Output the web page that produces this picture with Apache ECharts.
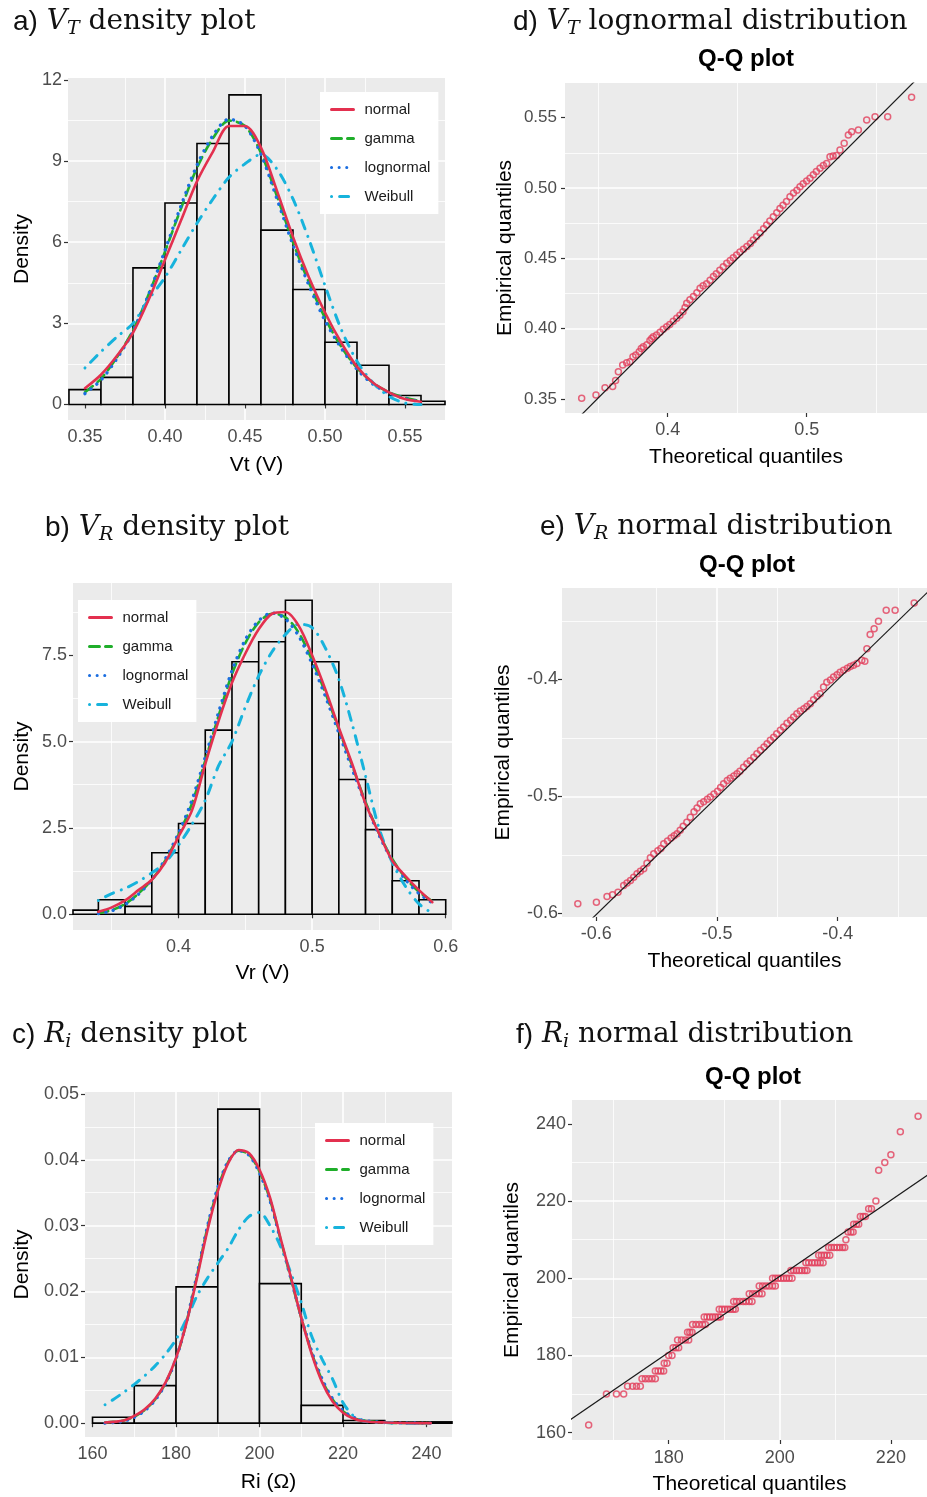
<!DOCTYPE html>
<html>
<head>
<meta charset="utf-8">
<script src="https://cdn.jsdelivr.net/npm/echarts@6/dist/echarts.min.js"></script>
<style>
  html, body { margin: 0; padding: 0; background: #fff; }
  #main { width: 927px; height: 1497px; }
</style>
</head>
<body>
<div id="main"></div>
<script>
// ---- panel a : Vt histogram + fitted densities ----
var binsA = [0.34, 0.36, 0.38, 0.40, 0.42, 0.44, 0.46, 0.48, 0.50, 0.52, 0.54, 0.56, 0.58];
var histA = [0.55, 1.0, 5.05, 7.45, 9.65, 11.45, 6.45, 4.25, 2.3, 1.45, 0.33, 0.12];
var xA = [0.35, 0.36, 0.37, 0.38, 0.39, 0.40, 0.41, 0.42, 0.43, 0.44, 0.45, 0.46, 0.47, 0.48, 0.49, 0.50, 0.51, 0.52, 0.53, 0.54, 0.55, 0.56];
var normA = [0.6, 1.1, 1.8, 2.65, 3.9, 5.35, 6.8, 8.25, 9.35, 10.3, 10.3, 9.5, 7.9, 6.2, 4.7, 3.4, 2.3, 1.4, 0.8, 0.45, 0.2, 0.1];
var gammaA = [0.45, 0.95, 1.75, 2.75, 4.1, 5.65, 7.25, 8.75, 9.85, 10.5, 10.3, 9.3, 7.7, 6.0, 4.5, 3.2, 2.15, 1.35, 0.8, 0.45, 0.25, 0.12];
var lognA = [0.4, 0.9, 1.7, 2.7, 4.1, 5.7, 7.35, 8.85, 9.95, 10.55, 10.3, 9.25, 7.6, 5.9, 4.4, 3.1, 2.1, 1.3, 0.75, 0.42, 0.22, 0.1];
var weibA = [1.35, 1.95, 2.5, 3.0, 3.9, 4.7, 5.7, 6.7, 7.6, 8.4, 8.9, 9.25, 8.7, 7.6, 6.1, 4.4, 2.8, 1.6, 0.8, 0.3, 0.05, 0];

// ---- panel b : Vr ----
var binsB = [0.32, 0.34, 0.36, 0.38, 0.40, 0.42, 0.44, 0.46, 0.48, 0.50, 0.52, 0.54, 0.56, 0.58, 0.60];
var histB = [0.12, 0.42, 0.23, 1.78, 2.63, 5.33, 7.31, 7.89, 9.09, 7.31, 3.9, 2.45, 0.97, 0.42];
var xB = [0.34, 0.35, 0.36, 0.37, 0.38, 0.39, 0.40, 0.41, 0.42, 0.43, 0.44, 0.45, 0.46, 0.47, 0.48, 0.49, 0.50, 0.51, 0.52, 0.53, 0.54, 0.55, 0.56, 0.57, 0.58, 0.59];
var normB = [0.07, 0.2, 0.4, 0.7, 1.0, 1.5, 2.25, 3.0, 4.35, 5.6, 6.7, 7.55, 8.25, 8.7, 8.75, 8.35, 7.5, 6.5, 5.4, 4.35, 3.2, 2.35, 1.55, 1.1, 0.7, 0.35];
var gammaB = [0.03, 0.12, 0.3, 0.6, 1.0, 1.55, 2.3, 3.2, 4.45, 5.75, 6.95, 7.85, 8.45, 8.7, 8.6, 8.15, 7.35, 6.4, 5.35, 4.3, 3.25, 2.35, 1.6, 1.05, 0.65, 0.38];
var lognB = [0.02, 0.1, 0.28, 0.58, 1.0, 1.6, 2.35, 3.3, 4.55, 5.85, 7.05, 7.95, 8.5, 8.72, 8.55, 8.05, 7.25, 6.3, 5.25, 4.2, 3.2, 2.3, 1.55, 1.0, 0.6, 0.33];
var weibB = [0.4, 0.6, 0.75, 0.95, 1.2, 1.5, 2.0, 2.6, 3.3, 4.3, 5.0, 6.0, 6.9, 7.6, 8.1, 8.4, 8.3, 7.7, 6.8, 5.5, 4.0, 2.5, 1.5, 0.8, 0.3, 0.03];

// ---- panel c : Ri ----
var binsC = [160, 170, 180, 190, 200, 210, 220, 230, 240, 250];
var histC = [0.0009, 0.0057, 0.0207, 0.0477, 0.0212, 0.0027, 0.0004, 0.0002, 0.0002];
var xC = [163, 165, 167.5, 170, 172.5, 175, 177.5, 180, 182.5, 185, 187.5, 190, 192.5, 195, 197.5, 200, 202.5, 205, 207.5, 210, 212.5, 215, 217.5, 220, 222.5, 225, 230, 235, 241];
var normC = [0.0001, 0.0002, 0.0004, 0.0011, 0.0021, 0.0037, 0.0062, 0.0099, 0.0152, 0.0220, 0.0292, 0.0352, 0.0395, 0.0415, 0.0410, 0.0385, 0.0343, 0.0282, 0.0222, 0.0160, 0.0105, 0.0062, 0.0033, 0.0016, 0.0007, 0.0003, 0.0001, 0.00003, 0];
var gammaC = [0.0001, 0.0002, 0.0004, 0.0010, 0.0020, 0.0036, 0.0061, 0.0098, 0.0153, 0.0223, 0.0296, 0.0356, 0.0397, 0.0414, 0.0408, 0.0382, 0.0340, 0.0280, 0.0220, 0.0160, 0.0107, 0.0065, 0.0036, 0.0018, 0.0008, 0.0004, 0.0001, 0.00003, 0];
var lognC = [0, 0.0001, 0.0003, 0.0009, 0.0019, 0.0035, 0.0060, 0.0098, 0.0154, 0.0225, 0.0298, 0.0358, 0.0398, 0.0414, 0.0407, 0.0380, 0.0338, 0.0279, 0.0220, 0.0161, 0.0109, 0.0067, 0.0037, 0.0019, 0.0009, 0.0004, 0.0001, 0.00004, 0];
var weibC = [0.0028, 0.0036, 0.0047, 0.0059, 0.0072, 0.0087, 0.0105, 0.0127, 0.0158, 0.0193, 0.0220, 0.0243, 0.0266, 0.0294, 0.0314, 0.0320, 0.0300, 0.0269, 0.0228, 0.0183, 0.0132, 0.0097, 0.0067, 0.0031, 0.0011, 0.0003, 0.0001, 0, 0];

// ---- Q-Q panels : [theoretical, empirical] ----
var qqD = [[0.3381,0.3505],[0.3484,0.3528],[0.3549,0.358],[0.3604,0.3588],[0.3625,0.3632],[0.3645,0.3694],[0.3676,0.3742],[0.3705,0.3758],[0.3728,0.3765],[0.375,0.380],[0.377,0.3812],[0.3795,0.3835],[0.381,0.3858],[0.3825,0.3872],[0.385,0.3885],[0.3872,0.3915],[0.3885,0.393],[0.3897,0.3943],[0.392,0.3955],[0.3945,0.3975],[0.3968,0.3995],[0.3993,0.4014],[0.4015,0.4030],[0.404,0.4052],[0.4065,0.4073],[0.4088,0.4095],[0.411,0.412],[0.4125,0.415],[0.4137,0.418],[0.416,0.4205],[0.4185,0.4228],[0.421,0.4255],[0.4233,0.4287],[0.4255,0.4305],[0.428,0.432],[0.4305,0.4345],[0.4329,0.437],[0.435,0.439],[0.4375,0.4415],[0.44,0.4441],[0.4425,0.4465],[0.445,0.4485],[0.4472,0.4505],[0.4496,0.4524],[0.452,0.4545],[0.4545,0.4565],[0.457,0.4585],[0.4595,0.4605],[0.4616,0.463],[0.464,0.4655],[0.4665,0.468],[0.469,0.471],[0.4712,0.4737],[0.4735,0.4765],[0.476,0.4795],[0.4785,0.4825],[0.4808,0.4855],[0.483,0.4878],[0.4855,0.4905],[0.488,0.4938],[0.4905,0.4965],[0.493,0.4985],[0.4952,0.501],[0.4975,0.503],[0.5,0.505],[0.5024,0.5069],[0.5048,0.5095],[0.507,0.5118],[0.5096,0.514],[0.512,0.516],[0.5144,0.5175],[0.5168,0.5223],[0.519,0.5228],[0.5215,0.5232],[0.524,0.527],[0.527,0.5318],[0.53,0.5377],[0.5324,0.54],[0.5372,0.5412],[0.5432,0.5483],[0.5492,0.5507],[0.5583,0.5507],[0.5755,0.5645]];
var lineD = [[0.32, 0.321], [0.60, 0.598]];

var qqE = [[-0.6153,-0.5917],[-0.5999,-0.5903],[-0.5911,-0.5855],[-0.5865,-0.584],[-0.582,-0.5818],[-0.5773,-0.576],[-0.5745,-0.574],[-0.5717,-0.5718],[-0.569,-0.569],[-0.5662,-0.566],[-0.5635,-0.564],[-0.5607,-0.5618],[-0.558,-0.557],[-0.5552,-0.5525],[-0.5524,-0.549],[-0.549,-0.5465],[-0.5465,-0.5445],[-0.5441,-0.5405],[-0.541,-0.538],[-0.538,-0.5355],[-0.5355,-0.5335],[-0.5331,-0.5319],[-0.5305,-0.529],[-0.528,-0.5255],[-0.525,-0.522],[-0.5221,-0.5177],[-0.519,-0.513],[-0.5165,-0.510],[-0.5138,-0.5063],[-0.511,-0.5045],[-0.508,-0.5025],[-0.5055,-0.5006],[-0.5025,-0.498],[-0.4995,-0.4955],[-0.497,-0.4925],[-0.4945,-0.4892],[-0.4915,-0.4865],[-0.489,-0.4845],[-0.486,-0.4825],[-0.4834,-0.4806],[-0.481,-0.4785],[-0.478,-0.4752],[-0.4752,-0.4721],[-0.4725,-0.4695],[-0.4695,-0.4665],[-0.4669,-0.4635],[-0.464,-0.4605],[-0.461,-0.4578],[-0.4585,-0.455],[-0.4558,-0.4521],[-0.453,-0.4495],[-0.4505,-0.4465],[-0.4475,-0.4435],[-0.4448,-0.4407],[-0.442,-0.4375],[-0.439,-0.435],[-0.4365,-0.4322],[-0.4338,-0.4293],[-0.431,-0.427],[-0.428,-0.4252],[-0.4255,-0.4232],[-0.4227,-0.4208],[-0.42,-0.4175],[-0.417,-0.4145],[-0.4145,-0.4123],[-0.4117,-0.4066],[-0.409,-0.4025],[-0.406,-0.4005],[-0.4034,-0.398],[-0.4005,-0.396],[-0.398,-0.394],[-0.3951,-0.3923],[-0.392,-0.3905],[-0.3895,-0.389],[-0.3869,-0.388],[-0.384,-0.3865],[-0.38,-0.3838],[-0.3775,-0.3845],[-0.3758,-0.3738],[-0.3731,-0.3618],[-0.3698,-0.3567],[-0.3662,-0.3504],[-0.3598,-0.341],[-0.3524,-0.341],[-0.3366,-0.3348]];
var lineE = [[-0.64, -0.641], [-0.31, -0.310]];

// panel f: empirical levels (data are integers in steps of 2) and their theoretical quantiles
var levelsF = [162, 170, 172, 174, 176, 178, 180, 182, 184, 186, 188, 190, 192, 194, 196, 198, 200, 202, 204, 206, 208, 210, 212, 214, 216, 218, 220, 228, 230, 232, 238, 242];
var theoF = [
  [165.6],
  [168.8, 170.6, 171.9],
  [172.6, 173.5, 174.2, 174.9],
  [175.2, 175.8, 176.4, 177.0, 177.6],
  [177.6, 178.1, 178.6, 179.1],
  [179.2, 179.7],
  [180.0, 180.6],
  [180.8, 181.3, 181.8],
  [181.6, 182.3, 183.0, 183.6],
  [183.4, 183.8, 184.2],
  [184.3, 184.9, 185.5, 186.1, 186.6],
  [186.4, 186.9, 187.4, 187.9, 188.4, 188.9, 189.3],
  [189.1, 189.6, 190.1, 190.6, 191.1, 191.6, 192.0],
  [191.7, 192.2, 192.8, 193.4, 193.9, 194.5, 195.0],
  [194.5, 195.1, 195.7, 196.3, 196.8],
  [196.3, 196.9, 197.5, 198.1, 198.7, 199.2],
  [198.7, 199.2, 199.7, 200.2, 200.7, 201.2, 201.7, 202.2],
  [202.0, 202.5, 203.0, 203.5, 204.0, 204.5, 204.9],
  [204.7, 205.2, 205.8, 206.3, 206.8, 207.3, 207.8],
  [207.0, 207.5, 208.0, 208.5, 209.0],
  [208.8, 209.3, 209.8, 210.3, 210.8, 211.3, 211.7],
  [211.9],
  [212.3, 212.8, 213.2],
  [213.3, 213.8, 214.2],
  [214.5, 215.0, 215.4],
  [216.0, 216.5],
  [217.3],
  [217.8],
  [218.9],
  [220.0],
  [221.7],
  [224.9]
];
var lineF = [[160, 161.1], [230, 230.1]];

// tick values
var ticksAx = [0.35, 0.40, 0.45, 0.50, 0.55], ticksAy = [0, 3, 6, 9, 12];
var ticksBx = [0.4, 0.5, 0.6], ticksBy = [0, 2.5, 5, 7.5];
var ticksCx = [160, 180, 200, 220, 240], ticksCy = [0, 0.01, 0.02, 0.03, 0.04, 0.05];
var ticksDx = [0.4, 0.5], ticksDy = [0.35, 0.40, 0.45, 0.50, 0.55];
var ticksEx = [-0.6, -0.5, -0.4], ticksEy = [-0.6, -0.5, -0.4];
var ticksFx = [180, 200, 220], ticksFy = [160, 180, 200, 220, 240];

var distNames = ['normal', 'gamma', 'lognormal', 'Weibull'];
var RED = '#e3304f', GREEN = '#1fae2a', BLUE = '#1b6ee0', CYAN = '#17b3dc';
var SANS = 'Liberation Sans', SERIF = 'DejaVu Serif';

function fmt(d) { return function (v) { return (+v).toFixed(d); }; }

function axis(gi, min, max, step, ticks, f, name, gap, margin, size) {
  return {
    type: 'value', gridIndex: gi, min: min, max: max,
    minInterval: step, maxInterval: step,
    name: name, nameLocation: 'middle', nameGap: gap,
    nameTextStyle: { fontSize: 21, color: '#000', fontFamily: SANS },
    axisLine: { show: false },
    axisTick: { show: true, length: 4, customValues: ticks, lineStyle: { color: '#333', width: 1.2 } },
    axisLabel: { customValues: ticks, formatter: f, margin: margin, fontSize: size || 18, color: '#4d4d4d', fontFamily: SANS },
    splitLine: { show: true, showMinLine: false, showMaxLine: false, lineStyle: { color: '#fff', width: 1.6 } },
    minorTick: { show: false, splitNumber: 2 },
    minorSplitLine: { show: true, lineStyle: { color: '#fff', width: 0.8 } }
  };
}

function histRender(params, api) {
  var p0 = api.coord([api.value(0), api.value(2)]);
  var p1 = api.coord([api.value(1), 0]);
  var cs = params.coordSys;
  var rect = echarts.graphic.clipRectByRect(
    { x: p0[0], y: p0[1], width: p1[0] - p0[0], height: p1[1] - p0[1] },
    { x: cs.x, y: cs.y, width: cs.width, height: cs.height });
  return rect && { type: 'rect', shape: rect, style: { fill: '#ececec', stroke: '#000', lineWidth: 1.6 } };
}

function hist(gi, edges, heights) {
  var data = heights.map(function (h, i) { return [edges[i], edges[i + 1], h]; });
  return { type: 'custom', xAxisIndex: gi, yAxisIndex: gi, renderItem: histRender, data: data, encode: { x: [0, 1], y: 2 }, z: 1, silent: true };
}

function curve(gi, name, xs, ys, color, lineType, width, z) {
  return {
    type: 'line', name: name, xAxisIndex: gi, yAxisIndex: gi, color: color,
    data: xs.map(function (x, i) { return [x, ys[i]]; }),
    smooth: 0.3, symbol: 'none', showSymbol: false, clip: true, z: z,
    lineStyle: { color: color, width: width, type: lineType, cap: 'round' }
  };
}

function densitySet(gi, xs, n, g, l, w) {
  return [
    curve(gi, 'gamma', xs, g, GREEN, [10, 6], 2.6, 3),
    curve(gi, 'lognormal', xs, l, BLUE, [0.1, 7.5], 3.4, 4),
    curve(gi, 'Weibull', xs, w, CYAN, [0.1, 8, 9, 8], 3, 5),
    curve(gi, 'normal', xs, n, RED, 'solid', 2.6, 6)
  ];
}

function qq(gi, pts, line) {
  return [
    { type: 'scatter', xAxisIndex: gi, yAxisIndex: gi, data: pts, symbol: 'circle', symbolSize: 6, z: 3,
      itemStyle: { color: 'rgba(0,0,0,0)', borderColor: '#e2405c', borderWidth: 1.5 } },
    { type: 'line', xAxisIndex: gi, yAxisIndex: gi, data: line, symbol: 'none', clip: true, z: 4,
      lineStyle: { color: '#1a1a1a', width: 1.2 } }
  ];
}

var qqF = [];
levelsF.forEach(function (lv, i) { theoF[i].forEach(function (t) { qqF.push([t, lv]); }); });

function legend(left, top) {
  return {
    data: distNames, orient: 'vertical', left: left, top: top,
    backgroundColor: '#fff', padding: [10, 8, 10, 10], itemGap: 14,
    itemWidth: 22, itemHeight: 14, selectedMode: false,
    itemStyle: { opacity: 0 },
    lineStyle: { width: 3 },
    textStyle: { fontSize: 15, color: '#1a1a1a', fontFamily: SANS, padding: [0, 0, 0, 6] }
  };
}

function title(x, y, letter, v, sub, rest) {
  return {
    type: 'text', x: x, y: y,
    style: {
      text: '{p|' + letter + '} {v|' + v + '}{s|' + sub + '} {r|' + rest + '}',
      textVerticalAlign: 'middle', fill: '#111', font: '28px ' + SERIF,
      rich: {
        p: { fontFamily: SANS, fontSize: 28, lineHeight: 34, fill: '#111' },
        v: { fontFamily: SERIF, fontStyle: 'italic', fontSize: 28, lineHeight: 34, fill: '#111' },
        s: { fontFamily: SERIF, fontStyle: 'italic', fontSize: 19, lineHeight: 20, verticalAlign: 'bottom', fill: '#111' },
        r: { fontFamily: SERIF, fontSize: 28, lineHeight: 34, fill: '#111' }
      }
    }
  };
}

function qqTitle(x, y) {
  return { type: 'text', x: x, y: y, style: { text: 'Q-Q plot', textAlign: 'center', textVerticalAlign: 'middle', font: 'bold 24px ' + SANS, fill: '#000' } };
}

var chart = echarts.init(document.getElementById('main'));
chart.setOption({
  animation: false,
  backgroundColor: '#fff',
  grid: [
    { left: 68, top: 78, width: 377, height: 342 },
    { left: 73, top: 583, width: 379, height: 347 },
    { left: 85, top: 1092, width: 367, height: 345 },
    { left: 565, top: 83, width: 362, height: 330 },
    { left: 562, top: 588, width: 365, height: 329 },
    { left: 572, top: 1100, width: 355, height: 340 }
  ].map(function (g) { g.show = true; g.backgroundColor = '#ebebeb'; g.borderWidth = 0; return g; }),
  xAxis: [
    axis(0, 0.3394, 0.575, 0.05, ticksAx, fmt(2), 'Vt (V)', 35, 8),
    axis(1, 0.321, 0.6047, 0.1, ticksBx, fmt(1), 'Vr (V)', 33, 8),
    axis(2, 158.2, 246.1, 20, ticksCx, fmt(0), 'Ri (\u03A9)', 35, 8),
    axis(3, 0.3261, 0.5866, 0.1, ticksDx, fmt(1), 'Theoretical quantiles', 34, 8),
    axis(4, -0.6284, -0.326, 0.1, ticksEx, fmt(1), 'Theoretical quantiles', 34, 8),
    axis(5, 162.6, 226.5, 20, ticksFx, fmt(0), 'Theoretical quantiles', 34, 9)
  ],
  yAxis: [
    axis(0, -0.575, 12.075, 3, ticksAy, fmt(0), 'Density', 35, 6),
    axis(1, -0.455, 9.59, 2.5, ticksBy, fmt(1), 'Density', 40, 6),
    axis(2, -0.0021, 0.0503, 0.01, ticksCy, fmt(2), 'Density', 52, 6),
    axis(3, 0.34, 0.5747, 0.05, ticksDy, fmt(2), 'Empirical quantiles', 49, 8, 17),
    axis(4, -0.603, -0.322, 0.1, ticksEy, fmt(1), 'Empirical quantiles', 48, 4),
    axis(5, 158.1, 246.2, 20, ticksFy, fmt(0), 'Empirical quantiles', 49, 6)
  ],
  legend: [legend(320, 92), legend(78, 600), legend(315, 1123)],
  graphic: [
    title(13, 22, 'a)', 'V', 'T', 'density plot'),
    title(45, 528, 'b)', 'V', 'R', 'density plot'),
    title(12, 1035, 'c)', 'R', 'i', 'density plot'),
    title(513, 22, 'd)', 'V', 'T', 'lognormal distribution'),
    title(540, 527, 'e)', 'V', 'R', 'normal distribution'),
    title(516, 1035, 'f)', 'R', 'i', 'normal distribution'),
    qqTitle(746, 59),
    qqTitle(747, 565),
    qqTitle(753, 1077)
  ],
  series: [].concat(
    [hist(0, binsA, histA)], densitySet(0, xA, normA, gammaA, lognA, weibA),
    [hist(1, binsB, histB)], densitySet(1, xB, normB, gammaB, lognB, weibB),
    [hist(2, binsC, histC)], densitySet(2, xC, normC, gammaC, lognC, weibC),
    qq(3, qqD, lineD), qq(4, qqE, lineE), qq(5, qqF, lineF)
  )
});
</script>
</body>
</html>
